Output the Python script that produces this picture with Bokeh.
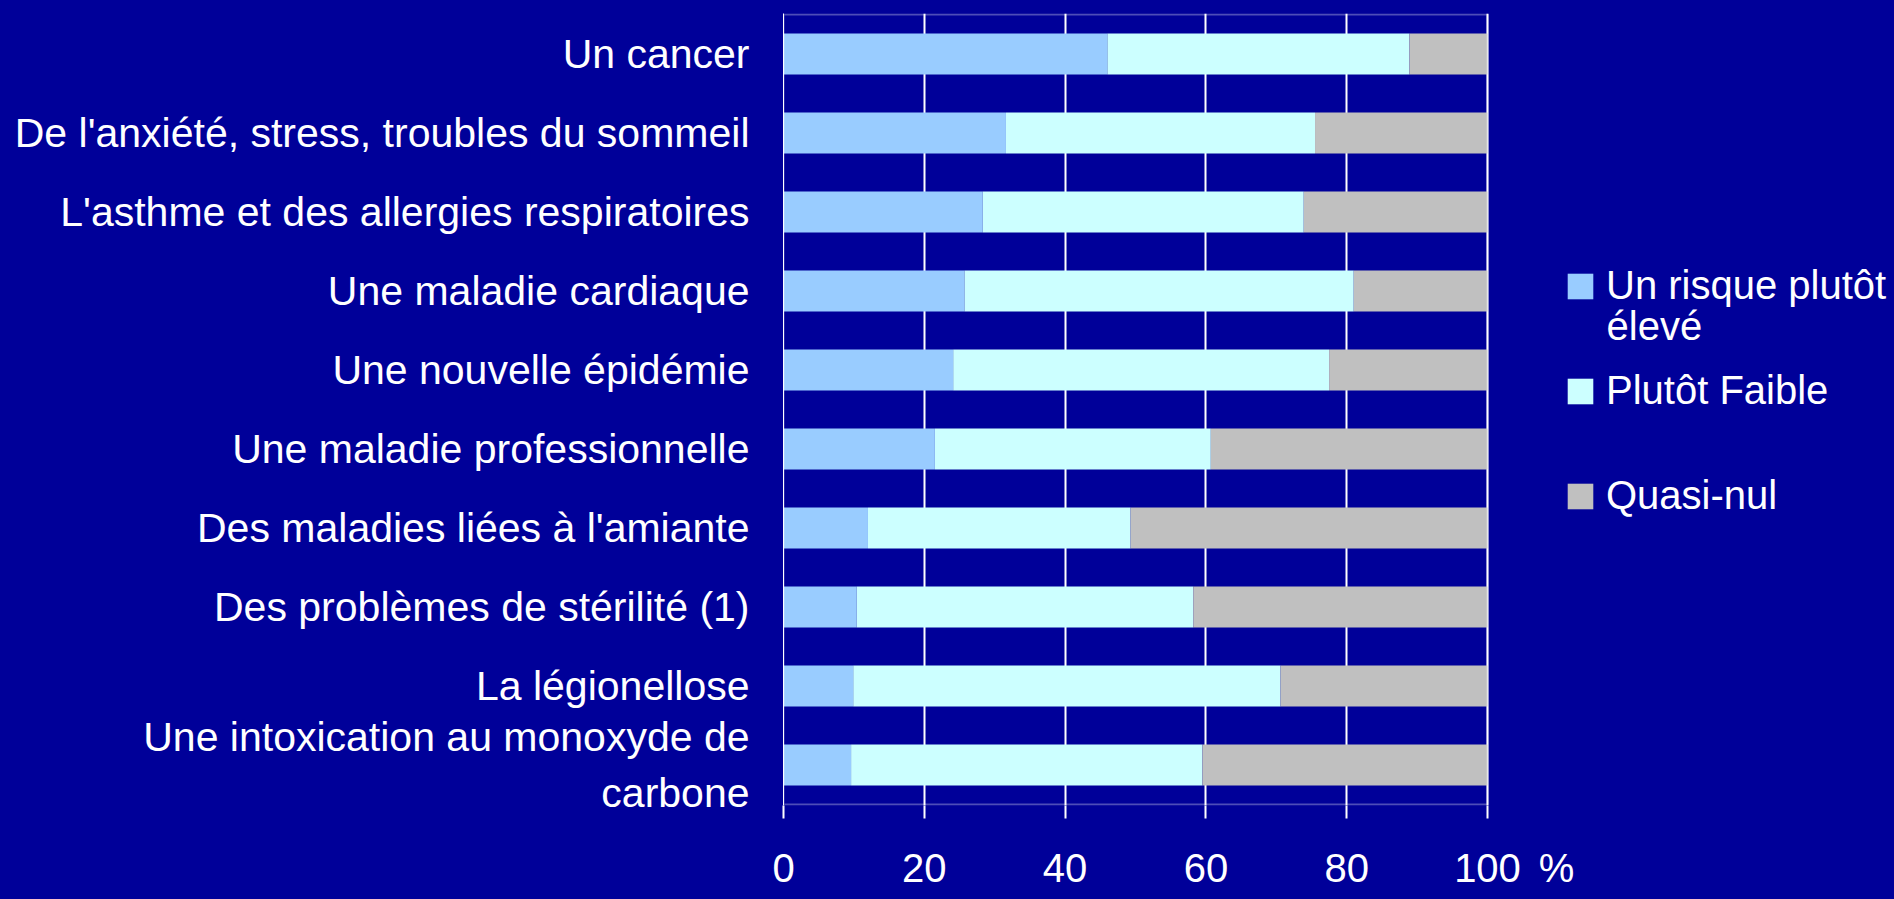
from bokeh.plotting import figure
from bokeh.models import (FactorRange, Range1d, Legend, LegendItem, Label, BoxAnnotation,
                          FixedTicker, ColumnDataSource)
from bokeh.embed import file_html
from bokeh.resources import INLINE

categories = [
    "Un cancer",
    "De l'anxiété, stress, troubles du sommeil",
    "L'asthme et des allergies respiratoires",
    "Une maladie cardiaque",
    "Une nouvelle épidémie",
    "Une maladie professionnelle",
    "Des maladies liées à l'amiante",
    "Des problèmes de stérilité (1)",
    "La légionellose",
    "Une intoxication au monoxyde de\ncarbone",
]
eleve = [46.0, 31.6, 28.3, 25.7, 24.1, 21.5, 12.0, 10.4, 9.9, 9.6]
faible = [42.9, 43.9, 45.6, 55.3, 53.4, 39.2, 37.3, 47.8, 60.7, 49.9]
quasi_nul = [11.1, 24.5, 26.1, 19.0, 22.5, 39.3, 50.7, 41.8, 29.4, 40.5]
series_labels = ["Un risque plutôt", "Plutôt Faible", "Quasi-nul"]
series_label_extra = "élevé"
x_ticks = [0, 20, 40, 60, 80, 100]
unit_label = "%"

BG = "#000099"
COLORS = ["#99CCFF", "#CCFFFF", "#C0C0C0"]
FONT = "Liberation Sans"

W, H = 1894, 899
LEFT, RIGHT_100, TOP, BOTTOM = 783, 1487, 13, 805   # frame left, x=100 position, frame top/bottom
x_end = 100 * (W - LEFT) / (RIGHT_100 - LEFT)       # frame extends to the right edge (legend area)
unit_pos = round(100 + 100 * (1556 - RIGHT_100) / (RIGHT_100 - LEFT), 1)
# 1px padding so the box border sits fully inside the frame
y_pad = len(categories) / ((BOTTOM - TOP) - 2)

source = ColumnDataSource(dict(cat=categories, eleve=eleve, faible=faible, quasi=quasi_nul))

p = figure(width=W, height=H, output_backend="svg", toolbar_location=None,
           y_range=FactorRange(factors=list(reversed(categories)), range_padding=y_pad,
                               range_padding_units="absolute"),
           x_range=Range1d(0, x_end),
           min_border_left=LEFT, min_border_right=0, min_border_top=TOP,
           min_border_bottom=H - BOTTOM)
p.styles = {"background-color": BG}
p.background_fill_color = BG
p.border_fill_color = None
p.outline_line_color = None

rends = p.hbar_stack(["eleve", "faible", "quasi"], y="cat", height=0.52, color=COLORS,
                     line_color=None, source=source)

# plot-area box (0..100 on x, whole category span on y)
p.add_layout(BoxAnnotation(left=0, right=100, bottom=0, top=len(categories), fill_alpha=0,
                           line_color="white", line_width=2, level="overlay"))

p.xgrid.ticker = FixedTicker(ticks=x_ticks)
p.xgrid.grid_line_color = "white"
p.xgrid.grid_line_width = 2
p.ygrid.grid_line_color = None

xa = p.xaxis[0]
xa.ticker = FixedTicker(ticks=x_ticks + [unit_pos], minor_ticks=x_ticks)
xa.major_label_overrides = {unit_pos: unit_label}
xa.axis_line_color = None
xa.major_tick_line_color = None
xa.major_tick_out = 13
xa.major_tick_in = 0
xa.minor_tick_line_color = "white"
xa.minor_tick_line_width = 2
xa.minor_tick_out = 13
xa.minor_tick_in = 0
xa.major_label_text_color = "white"
xa.major_label_text_font = FONT
xa.major_label_text_font_size = "40px"
xa.major_label_standoff = 27

ya = p.yaxis[0]
ya.axis_line_color = "white"
ya.axis_line_width = 1
ya.major_tick_line_color = None
ya.minor_tick_line_color = None
ya.major_label_text_color = "white"
ya.major_label_text_font = FONT
ya.major_label_text_font_size = "41px"
ya.major_label_standoff = 28

items = [LegendItem(label=lab, renderers=[r]) for lab, r in zip(series_labels, rends)]
legend = Legend(items=items, location=(1564 - LEFT, BOTTOM - 518), orientation="vertical",
                glyph_width=32, glyph_height=32, label_standoff=10, spacing=60,
                padding=0, margin=0, border_line_color=None, background_fill_alpha=0,
                label_text_color="white", label_text_font=FONT, label_text_font_size="40px")
p.add_layout(legend, "center")

p.add_layout(Label(x=1606 - LEFT, y=BOTTOM - 325, x_units="screen", y_units="screen",
                   text=series_label_extra, text_color="white", text_font=FONT,
                   text_font_size="40px", text_baseline="middle"))

open("out.html", "w").write(file_html(p, INLINE))
